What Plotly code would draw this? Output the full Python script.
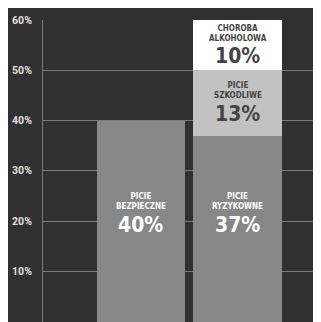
import plotly.graph_objects as go

# data
x_pos = [0, 1]
segments = ["PICIE<br>BEZPIECZNE", "PICIE<br>RYZYKOWNE", "PICIE<br>SZKODLIWE", "CHOROBA<br>ALKOHOLOWA"]
seg_x = [0, 1, 1, 1]
seg_vals = [40, 37, 13, 10]
seg_colors = ["#878787", "#878787", "#c2c2c2", "#ffffff"]
seg_text_colors = ["#ffffff", "#ffffff", "#444444", "#444444"]
tick_vals = [0, 10, 20, 30, 40, 50, 60]
tick_text = ["0%", "10%", "20%", "30%", "40%", "50%", "60%"]
bottom_label_level = 21.5

NARROW = "DejaVu Sans"
ST = "font-stretch:condensed"

fig = go.Figure()
bases = {0: 0, 1: 0}
annotations = []
for name, xx, v, c, tc in zip(segments, seg_x, seg_vals, seg_colors, seg_text_colors):
    base = bases[xx]
    fig.add_trace(go.Bar(x=[xx], y=[v], marker=dict(color=c, line=dict(width=0)),
                         width=0.917, showlegend=False, hoverinfo="skip"))
    yc = base + v / 2 if base > 0 else bottom_label_level
    bases[xx] = base + v
    small = "<br>".join('<span style="%s">%s</span>' % (ST, s) for s in name.split("<br>"))
    annotations.append(dict(x=xx, y=yc, xref="x", yref="y", text=small, showarrow=False,
                            yshift=12, font=dict(family=NARROW, size=8, color=tc, weight="bold")))
    annotations.append(dict(x=xx, y=yc, xref="x", yref="y",
                            text='<span style="%s">%d%%</span>' % (ST, v),
                            showarrow=False, yshift=-11,
                            font=dict(family=NARROW, size=21, color=tc, weight="bold")))

# the page body has an 8px margin: compensate so the plot area lands where the reference has it
fig.update_layout(
    barmode="stack",
    width=313, height=314,
    margin=dict(l=35, r=0, t=12, b=0, autoexpand=False),
    paper_bgcolor="#303030", plot_bgcolor="#303030",
    annotations=annotations,
    xaxis=dict(range=[-1.01, 1.856], showgrid=False, showticklabels=False,
               zeroline=False, showline=False, automargin=False),
    yaxis=dict(range=[-0.1, 60.02], tickvals=tick_vals, ticktext=tick_text,
               showgrid=True, gridcolor="#7a7a7a", gridwidth=1, zeroline=False,
               showline=True, linecolor="#7a7a7a", linewidth=1, automargin=False,
               ticks="", ticklabelstandoff=8,
               tickfont=dict(family="Roboto", size=10.5, color="#e0e0e0", weight="bold")),
)

fig.write_html("out.html")
